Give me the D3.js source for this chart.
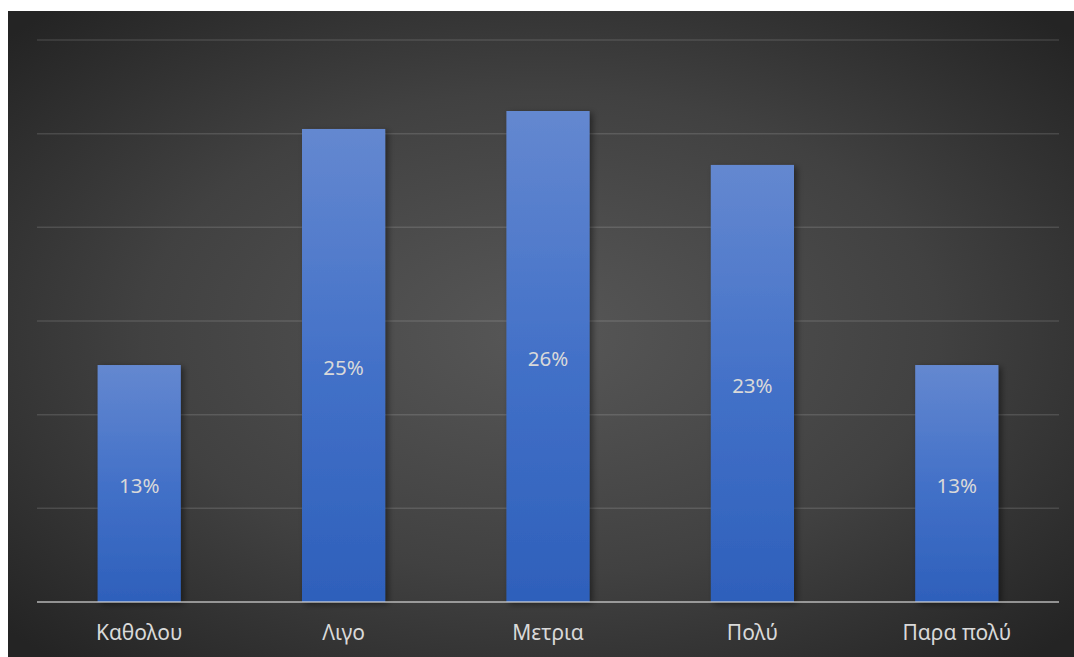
<!DOCTYPE html>
<html>
<head>
<meta charset="utf-8">
<script src="https://cdn.jsdelivr.net/npm/d3@7"></script>
<style>
  html, body { margin: 0; padding: 0; background: #ffffff; }
  svg { display: block; }
</style>
</head>
<body>
<svg id="chart" width="1074" height="657"></svg>
<script>
// Survey response categories and their shares
const categories = ["Καθολου", "Λιγο", "Μετρια", "Πολύ", "Παρα πολύ"];
const shares = [0.1265, 0.2525, 0.2621, 0.2333, 0.1265];
const gridTicks = [0.05, 0.10, 0.15, 0.20, 0.25, 0.30];

const W = 1074, H = 657;
const frame = { left: 8, top: 11 };
const plot = { left: 37, right: 1059, top: 40, bottom: 602 };

const svg = d3.select("#chart");
const defs = svg.append("defs");

// Dark vignette background
const bg = defs.append("radialGradient")
  .attr("id", "bgGrad")
  .attr("cx", "50%").attr("cy", "50%").attr("r", "68%");
bg.append("stop").attr("offset", "0%").attr("stop-color", "#575757");
bg.append("stop").attr("offset", "55%").attr("stop-color", "#414141");
bg.append("stop").attr("offset", "100%").attr("stop-color", "#242424");

// Bar fill: lighter at the top
const barGrad = defs.append("linearGradient")
  .attr("id", "barGrad")
  .attr("x1", 0).attr("y1", 0).attr("x2", 0).attr("y2", 1);
barGrad.append("stop").attr("offset", "0%").attr("stop-color", "#6488d0");
barGrad.append("stop").attr("offset", "50%").attr("stop-color", "#4371c8");
barGrad.append("stop").attr("offset", "100%").attr("stop-color", "#2e60bb");

const shadow = defs.append("filter")
  .attr("id", "barShadow")
  .attr("x", "-20%").attr("y", "-10%").attr("width", "150%").attr("height", "130%");
shadow.append("feDropShadow")
  .attr("dx", 3).attr("dy", 2).attr("stdDeviation", 3)
  .attr("flood-color", "#000").attr("flood-opacity", 0.45);

svg.append("rect")
  .attr("x", frame.left).attr("y", frame.top)
  .attr("width", W - frame.left).attr("height", H - frame.top)
  .attr("fill", "url(#bgGrad)");

const x = d3.scaleBand()
  .domain(categories)
  .range([plot.left, plot.right])
  .paddingInner(0.593)
  .paddingOuter(0.2965);

const y = d3.scaleLinear()
  .domain([0, 0.30])
  .range([plot.bottom, plot.top]);

// Horizontal gridlines
svg.append("g")
  .selectAll("line")
  .data(gridTicks)
  .join("line")
  .attr("x1", plot.left).attr("x2", plot.right)
  .attr("y1", d => y(d)).attr("y2", d => y(d))
  .attr("stroke", "#ffffff").attr("stroke-opacity", 0.13)
  .attr("stroke-width", 1.5);

const fmt = d3.format(".0%");
const data = categories.map((c, i) => ({ c, v: shares[i] }));

// Bars
svg.append("g")
  .selectAll("rect")
  .data(data)
  .join("rect")
  .attr("x", d => x(d.c))
  .attr("y", d => y(d.v))
  .attr("width", x.bandwidth())
  .attr("height", d => y(0) - y(d.v))
  .attr("fill", "url(#barGrad)")
  .attr("filter", "url(#barShadow)");

// Value labels, centred in each bar
svg.append("g")
  .selectAll("text")
  .data(data)
  .join("text")
  .attr("x", d => x(d.c) + x.bandwidth() / 2)
  .attr("y", d => (y(d.v) + y(0)) / 2 + 2)
  .attr("dy", "0.35em")
  .attr("text-anchor", "middle")
  .attr("font-family", "'Noto Sans', 'Open Sans', sans-serif")
  .attr("font-size", 20.5)
  .attr("fill", "#d9d9d9")
  .text(d => fmt(d.v));

// Category axis
const xAxis = svg.append("g")
  .attr("transform", `translate(0,${plot.bottom})`)
  .call(d3.axisBottom(x).tickSize(0).tickPadding(23));
xAxis.select(".domain")
  .attr("d", `M${plot.left},0H${plot.right}`)
  .attr("stroke", "#d9d9d9").attr("stroke-opacity", 0.6)
  .attr("stroke-width", 2.2);
xAxis.selectAll("text")
  .attr("font-family", "'Noto Sans', 'Open Sans', sans-serif")
  .attr("font-size", 21)
  .attr("fill", "#d9d9d9");
</script>
</body>
</html>
